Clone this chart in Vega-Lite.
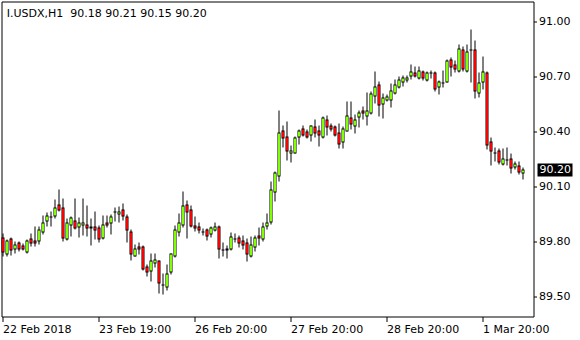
{
  "$schema": "https://vega.github.io/schema/vega-lite/v6.json",
  "width": 532,
  "height": 315,
  "autosize": {"type": "none"},
  "padding": {"left": 2, "top": 2, "right": 46, "bottom": 23},
  "background": "white",
  "config": {"view": {"stroke": null}},
  "resolve": {"axis": {"x": "independent", "y": "independent"}},
  "data": {"values": [
    {"i":0,"o":89.825,"h":89.849,"l":89.731,"c":89.753},
    {"i":1,"o":89.740,"h":89.818,"l":89.727,"c":89.812},
    {"i":2,"o":89.822,"h":89.825,"l":89.734,"c":89.763},
    {"i":3,"o":89.767,"h":89.803,"l":89.745,"c":89.789},
    {"i":4,"o":89.800,"h":89.807,"l":89.758,"c":89.767},
    {"i":5,"o":89.782,"h":89.792,"l":89.760,"c":89.767},
    {"i":6,"o":89.753,"h":89.818,"l":89.745,"c":89.811},
    {"i":7,"o":89.822,"h":89.849,"l":89.782,"c":89.800},
    {"i":8,"o":89.811,"h":89.885,"l":89.785,"c":89.800},
    {"i":9,"o":89.811,"h":89.885,"l":89.794,"c":89.871},
    {"i":10,"o":89.862,"h":89.945,"l":89.849,"c":89.909},
    {"i":11,"o":89.920,"h":89.963,"l":89.891,"c":89.949},
    {"i":12,"o":89.942,"h":89.967,"l":89.894,"c":89.942},
    {"i":13,"o":89.949,"h":90.034,"l":89.934,"c":89.990},
    {"i":14,"o":90.007,"h":90.091,"l":89.976,"c":89.982},
    {"i":15,"o":89.991,"h":90.040,"l":89.812,"c":89.825},
    {"i":16,"o":89.822,"h":89.931,"l":89.818,"c":89.909},
    {"i":17,"o":89.898,"h":89.940,"l":89.840,"c":89.934},
    {"i":18,"o":89.922,"h":90.040,"l":89.876,"c":89.882},
    {"i":19,"o":89.885,"h":89.934,"l":89.831,"c":89.909},
    {"i":20,"o":89.898,"h":90.040,"l":89.843,"c":89.909},
    {"i":21,"o":89.898,"h":90.003,"l":89.836,"c":89.882},
    {"i":22,"o":89.889,"h":89.931,"l":89.789,"c":89.880},
    {"i":23,"o":89.889,"h":89.971,"l":89.822,"c":89.871},
    {"i":24,"o":89.882,"h":89.891,"l":89.807,"c":89.822},
    {"i":25,"o":89.825,"h":89.949,"l":89.822,"c":89.898},
    {"i":26,"o":89.909,"h":89.949,"l":89.885,"c":89.896},
    {"i":27,"o":89.907,"h":89.952,"l":89.849,"c":89.940},
    {"i":28,"o":89.969,"h":89.990,"l":89.922,"c":89.969},
    {"i":29,"o":89.958,"h":89.998,"l":89.916,"c":89.971},
    {"i":30,"o":89.982,"h":90.012,"l":89.927,"c":89.945},
    {"i":31,"o":89.943,"h":89.952,"l":89.807,"c":89.871},
    {"i":32,"o":89.862,"h":89.871,"l":89.709,"c":89.740},
    {"i":33,"o":89.727,"h":89.789,"l":89.727,"c":89.767},
    {"i":34,"o":89.780,"h":89.800,"l":89.740,"c":89.767},
    {"i":35,"o":89.780,"h":89.785,"l":89.654,"c":89.658},
    {"i":36,"o":89.671,"h":89.682,"l":89.618,"c":89.640},
    {"i":37,"o":89.645,"h":89.740,"l":89.594,"c":89.703},
    {"i":38,"o":89.689,"h":89.740,"l":89.667,"c":89.709},
    {"i":39,"o":89.700,"h":89.703,"l":89.527,"c":89.582},
    {"i":40,"o":89.570,"h":89.631,"l":89.522,"c":89.570},
    {"i":41,"o":89.558,"h":89.682,"l":89.545,"c":89.631},
    {"i":42,"o":89.643,"h":89.740,"l":89.631,"c":89.740},
    {"i":43,"o":89.731,"h":89.891,"l":89.722,"c":89.873},
    {"i":44,"o":89.860,"h":89.958,"l":89.836,"c":89.908},
    {"i":45,"o":89.898,"h":90.080,"l":89.885,"c":90.002},
    {"i":46,"o":90.009,"h":90.031,"l":89.827,"c":89.967},
    {"i":47,"o":89.982,"h":90.004,"l":89.885,"c":89.894},
    {"i":48,"o":89.891,"h":89.944,"l":89.867,"c":89.880},
    {"i":49,"o":89.889,"h":89.909,"l":89.854,"c":89.871},
    {"i":50,"o":89.860,"h":89.876,"l":89.845,"c":89.860},
    {"i":51,"o":89.871,"h":89.876,"l":89.818,"c":89.840},
    {"i":52,"o":89.849,"h":89.885,"l":89.834,"c":89.882},
    {"i":53,"o":89.871,"h":89.909,"l":89.867,"c":89.885},
    {"i":54,"o":89.889,"h":89.891,"l":89.718,"c":89.767},
    {"i":55,"o":89.762,"h":89.800,"l":89.731,"c":89.762},
    {"i":56,"o":89.762,"h":89.782,"l":89.718,"c":89.769},
    {"i":57,"o":89.767,"h":89.853,"l":89.762,"c":89.831},
    {"i":58,"o":89.824,"h":89.849,"l":89.803,"c":89.824},
    {"i":59,"o":89.827,"h":89.840,"l":89.776,"c":89.798},
    {"i":60,"o":89.813,"h":89.840,"l":89.767,"c":89.789},
    {"i":61,"o":89.800,"h":89.822,"l":89.704,"c":89.740},
    {"i":62,"o":89.731,"h":89.831,"l":89.722,"c":89.789},
    {"i":63,"o":89.780,"h":89.840,"l":89.758,"c":89.827},
    {"i":64,"o":89.840,"h":89.880,"l":89.791,"c":89.827},
    {"i":65,"o":89.822,"h":89.909,"l":89.813,"c":89.889},
    {"i":66,"o":89.894,"h":89.958,"l":89.876,"c":89.911},
    {"i":67,"o":89.913,"h":90.131,"l":89.903,"c":90.089},
    {"i":68,"o":90.076,"h":90.189,"l":90.031,"c":90.182},
    {"i":69,"o":90.167,"h":90.522,"l":90.136,"c":90.400},
    {"i":70,"o":90.413,"h":90.440,"l":90.325,"c":90.373},
    {"i":71,"o":90.380,"h":90.462,"l":90.254,"c":90.304},
    {"i":72,"o":90.291,"h":90.331,"l":90.240,"c":90.304},
    {"i":73,"o":90.291,"h":90.376,"l":90.291,"c":90.373},
    {"i":74,"o":90.376,"h":90.418,"l":90.340,"c":90.409},
    {"i":75,"o":90.422,"h":90.436,"l":90.385,"c":90.391},
    {"i":76,"o":90.404,"h":90.416,"l":90.373,"c":90.380},
    {"i":77,"o":90.391,"h":90.440,"l":90.358,"c":90.436},
    {"i":78,"o":90.431,"h":90.471,"l":90.376,"c":90.400},
    {"i":79,"o":90.413,"h":90.436,"l":90.327,"c":90.391},
    {"i":80,"o":90.376,"h":90.485,"l":90.373,"c":90.480},
    {"i":81,"o":90.471,"h":90.494,"l":90.391,"c":90.434},
    {"i":82,"o":90.436,"h":90.449,"l":90.409,"c":90.422},
    {"i":83,"o":90.434,"h":90.440,"l":90.385,"c":90.391},
    {"i":84,"o":90.400,"h":90.449,"l":90.316,"c":90.340},
    {"i":85,"o":90.353,"h":90.431,"l":90.318,"c":90.422},
    {"i":86,"o":90.413,"h":90.571,"l":90.409,"c":90.494},
    {"i":87,"o":90.482,"h":90.571,"l":90.422,"c":90.449},
    {"i":88,"o":90.440,"h":90.500,"l":90.398,"c":90.471},
    {"i":89,"o":90.485,"h":90.522,"l":90.434,"c":90.509},
    {"i":90,"o":90.522,"h":90.543,"l":90.476,"c":90.509},
    {"i":91,"o":90.494,"h":90.618,"l":90.445,"c":90.522},
    {"i":92,"o":90.507,"h":90.622,"l":90.503,"c":90.613},
    {"i":93,"o":90.600,"h":90.734,"l":90.562,"c":90.653},
    {"i":94,"o":90.663,"h":90.676,"l":90.491,"c":90.553},
    {"i":95,"o":90.558,"h":90.613,"l":90.480,"c":90.591},
    {"i":96,"o":90.580,"h":90.609,"l":90.573,"c":90.594},
    {"i":97,"o":90.580,"h":90.667,"l":90.543,"c":90.631},
    {"i":98,"o":90.618,"h":90.689,"l":90.613,"c":90.663},
    {"i":99,"o":90.649,"h":90.703,"l":90.645,"c":90.691},
    {"i":100,"o":90.676,"h":90.713,"l":90.658,"c":90.700},
    {"i":101,"o":90.689,"h":90.713,"l":90.676,"c":90.700},
    {"i":102,"o":90.713,"h":90.773,"l":90.694,"c":90.734},
    {"i":103,"o":90.725,"h":90.762,"l":90.703,"c":90.713},
    {"i":104,"o":90.698,"h":90.758,"l":90.694,"c":90.736},
    {"i":105,"o":90.734,"h":90.736,"l":90.689,"c":90.698},
    {"i":106,"o":90.689,"h":90.731,"l":90.682,"c":90.725},
    {"i":107,"o":90.729,"h":90.740,"l":90.700,"c":90.729},
    {"i":108,"o":90.725,"h":90.731,"l":90.627,"c":90.640},
    {"i":109,"o":90.649,"h":90.682,"l":90.613,"c":90.676},
    {"i":110,"o":90.675,"h":90.740,"l":90.653,"c":90.675},
    {"i":111,"o":90.676,"h":90.798,"l":90.676,"c":90.794},
    {"i":112,"o":90.798,"h":90.809,"l":90.713,"c":90.762},
    {"i":113,"o":90.771,"h":90.794,"l":90.734,"c":90.749},
    {"i":114,"o":90.740,"h":90.882,"l":90.731,"c":90.858},
    {"i":115,"o":90.852,"h":90.871,"l":90.740,"c":90.749},
    {"i":116,"o":90.736,"h":90.882,"l":90.731,"c":90.840},
    {"i":117,"o":90.855,"h":90.963,"l":90.676,"c":90.855},
    {"i":118,"o":90.852,"h":90.903,"l":90.591,"c":90.627},
    {"i":119,"o":90.618,"h":90.727,"l":90.598,"c":90.672},
    {"i":120,"o":90.676,"h":90.812,"l":90.640,"c":90.731},
    {"i":121,"o":90.725,"h":90.731,"l":90.312,"c":90.336},
    {"i":122,"o":90.349,"h":90.372,"l":90.227,"c":90.303},
    {"i":123,"o":90.290,"h":90.318,"l":90.249,"c":90.290},
    {"i":124,"o":90.300,"h":90.312,"l":90.231,"c":90.240},
    {"i":125,"o":90.231,"h":90.312,"l":90.227,"c":90.258},
    {"i":126,"o":90.255,"h":90.318,"l":90.227,"c":90.255},
    {"i":127,"o":90.258,"h":90.285,"l":90.180,"c":90.209},
    {"i":128,"o":90.216,"h":90.243,"l":90.203,"c":90.231},
    {"i":129,"o":90.222,"h":90.240,"l":90.176,"c":90.185},
    {"i":130,"o":90.180,"h":90.210,"l":90.150,"c":90.200}
  ]},
  "layer": [
    {
      "mark": {"type": "rule", "color": "black", "strokeWidth": 1, "yOffset": 1.5, "y2Offset": 0.5},
      "encoding": {
        "x": {"field": "i", "type": "quantitative",
          "scale": {"domain": [-0.25, 132.75], "nice": false, "zero": false},
          "axis": {"orient": "bottom", "values": [0, 24, 48, 72, 96, 120],
            "labelExpr": "['22 Feb 2018','23 Feb 19:00','26 Feb 20:00','27 Feb 20:00','28 Feb 20:00','1 Mar 20:00'][datum.value/24]",
            "domain": true, "domainColor": "black", "domainWidth": 1, "grid": false,
            "tickSize": 5, "tickColor": "black", "tickWidth": 1,
            "labelAlign": "left", "labelFont": "DejaVu Sans", "labelFontSize": 11, "labelColor": "black",
            "labelPadding": 2, "title": null, "translate": 0, "labelFlush": false, "labelOverlap": false}},
        "y": {"field": "l", "type": "quantitative",
          "scale": {"domain": [89.39091, 91.10909], "round": true, "nice": false, "zero": false},
          "axis": {"orient": "right", "values": [89.5, 89.8, 90.1, 90.4, 90.7, 91.0], "format": ".2f",
            "domain": true, "domainColor": "black", "domainWidth": 1, "grid": false,
            "tickSize": 3, "tickColor": "black", "tickWidth": 1,
            "labelFont": "DejaVu Sans", "labelFontSize": 11, "labelColor": "black",
            "labelPadding": 2, "title": null, "translate": 0, "labelBaseline": "middle", "labelOverlap": false}},
        "y2": {"field": "h"}
      }
    },
    {
      "transform": [{"filter": "datum.c > datum.o"}],
      "mark": {"type": "rule", "color": "black", "strokeWidth": 3, "yOffset": 1.5, "y2Offset": 0.5},
      "encoding": {
        "x": {"field": "i", "type": "quantitative", "axis": null},
        "y": {"field": "o", "type": "quantitative", "axis": null},
        "y2": {"field": "c"}
      }
    },
    {
      "transform": [{"filter": "datum.c <= datum.o"}],
      "mark": {"type": "rule", "color": "black", "strokeWidth": 3, "yOffset": 0.5, "y2Offset": 1.5},
      "encoding": {
        "x": {"field": "i", "type": "quantitative", "axis": null},
        "y": {"field": "o", "type": "quantitative", "axis": null},
        "y2": {"field": "c"}
      }
    },
    {
      "transform": [{"filter": "datum.c > datum.o"}],
      "mark": {"type": "rule", "color": "#80ff00", "strokeWidth": 2, "yOffset": 0.5, "y2Offset": 1.5},
      "encoding": {
        "x": {"field": "i", "type": "quantitative", "axis": null},
        "y": {"field": "o", "type": "quantitative", "axis": null},
        "y2": {"field": "c"}
      }
    },
    {
      "transform": [{"filter": "datum.c < datum.o"}],
      "mark": {"type": "rule", "color": "#ff0000", "strokeWidth": 2, "yOffset": 1.5, "y2Offset": 0.5},
      "encoding": {
        "x": {"field": "i", "type": "quantitative", "axis": null},
        "y": {"field": "o", "type": "quantitative", "axis": null},
        "y2": {"field": "c"}
      }
    },
    {
      "data": {"values": [{"label": "I.USDX,H1\u00a0\u00a090.18 90.21 90.15 90.20"}]},
      "mark": {"type": "text", "align": "left", "baseline": "alphabetic", "font": "DejaVu Sans", "fontSize": 11, "color": "black"},
      "encoding": {
        "x": {"datum": 0.95, "type": "quantitative",
          "axis": {"orient": "top", "labels": false, "ticks": false, "grid": false, "domain": true, "domainColor": "black", "domainWidth": 1, "title": null, "translate": 0}},
        "y": {"datum": 91.02727, "type": "quantitative",
          "axis": {"orient": "left", "labels": false, "ticks": false, "grid": false, "domain": true, "domainColor": "black", "domainWidth": 1, "title": null, "translate": 0}},
        "text": {"field": "label"}
      }
    },
    {
      "data": {"values": [{"last": "90.20"}]},
      "mark": {"type": "rect", "color": "black", "yOffset": 0.5, "y2Offset": 0.5},
      "encoding": {
        "x": {"datum": 133.625, "type": "quantitative", "axis": null},
        "x2": {"datum": 142.375},
        "y": {"datum": 90.2309, "type": "quantitative", "axis": null},
        "y2": {"datum": 90.16}
      }
    },
    {
      "data": {"values": [{"last": "90.20"}]},
      "mark": {"type": "text", "align": "left", "baseline": "middle", "font": "DejaVu Sans", "fontSize": 11, "color": "white"},
      "encoding": {
        "x": {"datum": 134.125, "type": "quantitative", "axis": null},
        "y": {"datum": 90.195, "type": "quantitative", "axis": null},
        "text": {"field": "last"}
      }
    }
  ]
}
